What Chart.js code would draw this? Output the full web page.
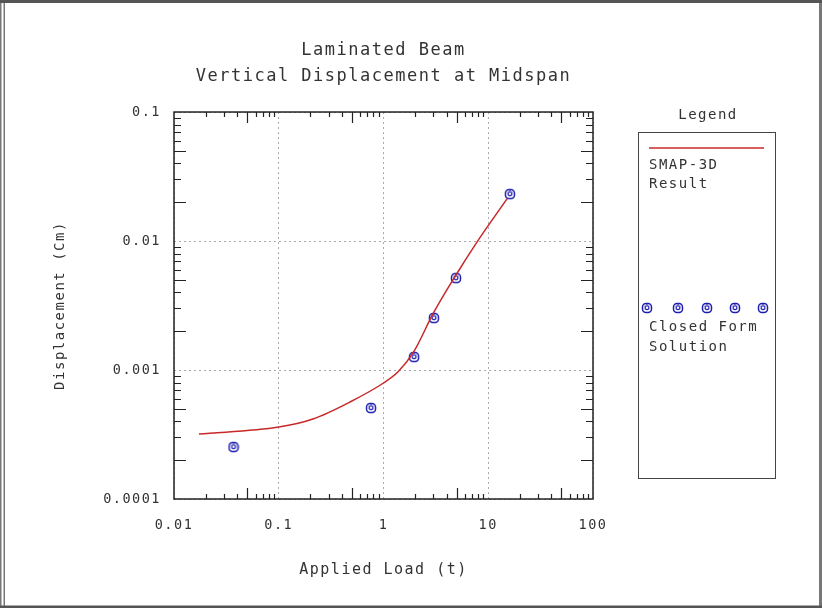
<!DOCTYPE html>
<html>
<head>
<meta charset="utf-8">
<script src="https://cdn.jsdelivr.net/npm/chart.js@4.4.1/dist/chart.umd.min.js"></script>
<style>
  html, body { margin: 0; padding: 0; background: #fff; }
  canvas { display: block; }
</style>
</head>
<body>
<canvas id="graph" width="822" height="608"></canvas>
<script>
// SMAP-3D result (red curve)
let loadFE = [0.0173, 0.1, 0.212, 0.479, 1.0, 1.37, 1.94, 3.0, 4.92, 7.8, 15.1];
let dispFE = [0.000319, 0.000361, 0.000417, 0.000565, 0.000793, 0.000964, 0.00138, 0.00277, 0.00545, 0.0098, 0.0212];
// closed form solution (blue circles)
let loadCF = [0.037, 0.76, 1.96, 3.03, 4.92, 16.1];
let dispCF = [0.000253, 0.000507, 0.00126, 0.00253, 0.00516, 0.0231];
// axis ticks
let xTickVals = [0.01, 0.1, 1, 10, 100];
let xTickLabels = ["0.01", "0.1", "1", "10", "100"];
let yTickVals = [0.0001, 0.001, 0.01, 0.1];
let yTickLabels = ["0.0001", "0.001", "0.01", "0.1"];

const FONT = "'DejaVu Sans Mono', 'Liberation Mono', monospace";
const TXT = "#333";
const RED = "#c82828";
const BLUE = "#1f1fb0";

//petit symbole "cercle" des points
function marker() {
  let c = document.createElement("canvas");
  c.width = 12; c.height = 12;
  let g = c.getContext("2d");
  g.strokeStyle = BLUE;
  g.lineWidth = 1.5;
  g.beginPath();
  g.roundRect(1.5, 1.5, 9, 9, 3.5);
  g.stroke();
  g.lineWidth = 1.2;
  g.beginPath();
  g.moveTo(4.2, 3.5);
  g.lineTo(4.2, 6.8);
  g.quadraticCurveTo(6, 8.4, 7.8, 6.8);
  g.lineTo(7.8, 3.5);
  g.moveTo(6, 1.5);
  g.lineTo(6, 5);
  g.stroke();
  return c;
}
let pt = marker();

//espacement des lettres comme sur l'original
const spacing = {
  id: "spacing",
  beforeLayout(chart) { chart.ctx.letterSpacing = "1.5px"; },
  beforeDraw(chart) { chart.ctx.letterSpacing = "1.5px"; }
};

//cadre gris autour de l'image
const frame = {
  id: "frame",
  beforeDraw(chart) {
    let ctx = chart.ctx;
    ctx.save();
    ctx.fillStyle = "#fff";
    ctx.fillRect(0, 0, 822, 608);
    ctx.fillStyle = "#777";
    ctx.fillRect(0, 0, 1.5, 608);
    ctx.fillRect(3.5, 0, 1.5, 608);
    ctx.fillRect(819, 0, 3, 608);
    ctx.fillStyle = "#555";
    ctx.fillRect(0, 0, 822, 3);
    ctx.fillRect(0, 605.5, 822, 2.5);
    ctx.restore();
  }
};

//boite du graphique + petites graduations vers l'interieur
const boxTicks = {
  id: "boxTicks",
  afterDatasetsDraw(chart) {
    let ctx = chart.ctx;
    let a = chart.chartArea;
    let sx = chart.scales.x, sy = chart.scales.y;
    ctx.save();
    ctx.strokeStyle = "#222";
    ctx.lineWidth = 1.2;
    ctx.beginPath();
    for (let d = 0.01; d < 99; d *= 10) {
      for (let m = 2; m <= 9; m++) {
        let px = Math.round(sx.getPixelForValue(m * d)) + 0.5;
        let len = m === 5 ? 11 : 5;
        ctx.moveTo(px, a.bottom); ctx.lineTo(px, a.bottom - len);
        ctx.moveTo(px, a.top); ctx.lineTo(px, a.top + len);
      }
    }
    for (let d = 0.0001; d < 0.099; d *= 10) {
      for (let m = 2; m <= 9; m++) {
        let py = Math.round(sy.getPixelForValue(m * d)) + 0.5;
        let len = (m === 5 || m === 2) ? 12 : 7;
        ctx.moveTo(a.left, py); ctx.lineTo(a.left + len, py);
        ctx.moveTo(a.right, py); ctx.lineTo(a.right - len, py);
      }
    }
    ctx.stroke();
    ctx.lineWidth = 1.5;
    ctx.strokeRect(a.left, a.top, a.right - a.left, a.bottom - a.top);
    ctx.restore();
  }
};

//legende dessinee a la main
const legendBox = {
  id: "legendBox",
  afterDraw(chart) {
    let ctx = chart.ctx;
    ctx.save();
    ctx.letterSpacing = "1.5px";
    ctx.fillStyle = TXT;
    ctx.font = "14px " + FONT;
    ctx.textBaseline = "middle";
    ctx.textAlign = "center";
    ctx.fillText("Legend", 708, 115);
    ctx.strokeStyle = "#444";
    ctx.lineWidth = 1;
    ctx.strokeRect(638.5, 132.5, 137, 346);
    ctx.strokeStyle = RED;
    ctx.lineWidth = 1.5;
    ctx.beginPath();
    ctx.moveTo(649, 148); ctx.lineTo(764, 148);
    ctx.stroke();
    ctx.textAlign = "left";
    ctx.fillText("SMAP-3D", 649, 165);
    ctx.fillText("Result", 649, 184);
    [647, 678, 707, 735, 763].forEach(x => ctx.drawImage(pt, x - 6, 308 - 6));
    ctx.fillText("Closed Form", 649, 327);
    ctx.fillText("Solution", 649, 347);
    ctx.restore();
  }
};

let ctx = document.getElementById("graph");

new Chart(ctx, {
  type: "scatter",
  data: {
    datasets: [
      {
        label: "SMAP-3D Result",
        data: loadFE.map((x, i) => ({ x: x, y: dispFE[i] })),
        showLine: true,
        borderColor: RED,
        borderWidth: 1.5,
        pointRadius: 0,
        cubicInterpolationMode: "monotone",
        fill: false
      },
      {
        label: "Closed Form Solution",
        data: loadCF.map((x, i) => ({ x: x, y: dispCF[i] })),
        pointStyle: pt,
        pointRadius: 6
      }
    ]
  },
  options: {
    responsive: false,
    animation: false,
    devicePixelRatio: 1,
    layout: { padding: { left: 0, right: 229, top: 0, bottom: 0 } },
    plugins: {
      legend: { display: false },
      tooltip: { enabled: false },
      title: {
        display: true,
        fullSize: false,
        text: ["Laminated Beam", "Vertical Displacement at Midspan"],
        color: TXT,
        font: { family: FONT, size: 17, weight: "normal", lineHeight: 1.53 },
        padding: { top: 38, bottom: 22 }
      }
    },
    scales: {
      x: {
        type: "logarithmic",
        min: 0.01,
        max: 100,
        afterFit(s) { s.height = 109; },
        afterBuildTicks(s) { s.ticks = xTickVals.map(v => ({ value: v })); },
        ticks: {
          color: TXT,
          font: { family: FONT, size: 13.5 },
          padding: 18,
          maxRotation: 0,
          autoSkip: false,
          callback: (v, i) => xTickLabels[i]
        },
        grid: { color: "#aaa", lineWidth: 1, drawTicks: false },
        border: { display: false, dash: [2, 3] },
        title: {
          display: true,
          text: "Applied Load (t)",
          color: TXT,
          font: { family: FONT, size: 15 },
          padding: { top: 0, bottom: 29 }
        }
      },
      y: {
        type: "logarithmic",
        min: 0.0001,
        max: 0.1,
        afterFit(s) { s.width = 174; },
        afterBuildTicks(s) { s.ticks = yTickVals.map(v => ({ value: v })); },
        ticks: {
          color: TXT,
          font: { family: FONT, size: 13.5 },
          padding: 13,
          autoSkip: false,
          callback: (v, i) => yTickLabels[i]
        },
        grid: { color: "#aaa", lineWidth: 1, drawTicks: false },
        border: { display: false, dash: [2, 3] },
        title: {
          display: true,
          text: "Displacement (Cm)",
          color: TXT,
          font: { family: FONT, size: 14 },
          padding: { top: 52, bottom: 0 }
        }
      }
    }
  },
  plugins: [spacing, frame, boxTicks, legendBox]
});
</script>
</body>
</html>
